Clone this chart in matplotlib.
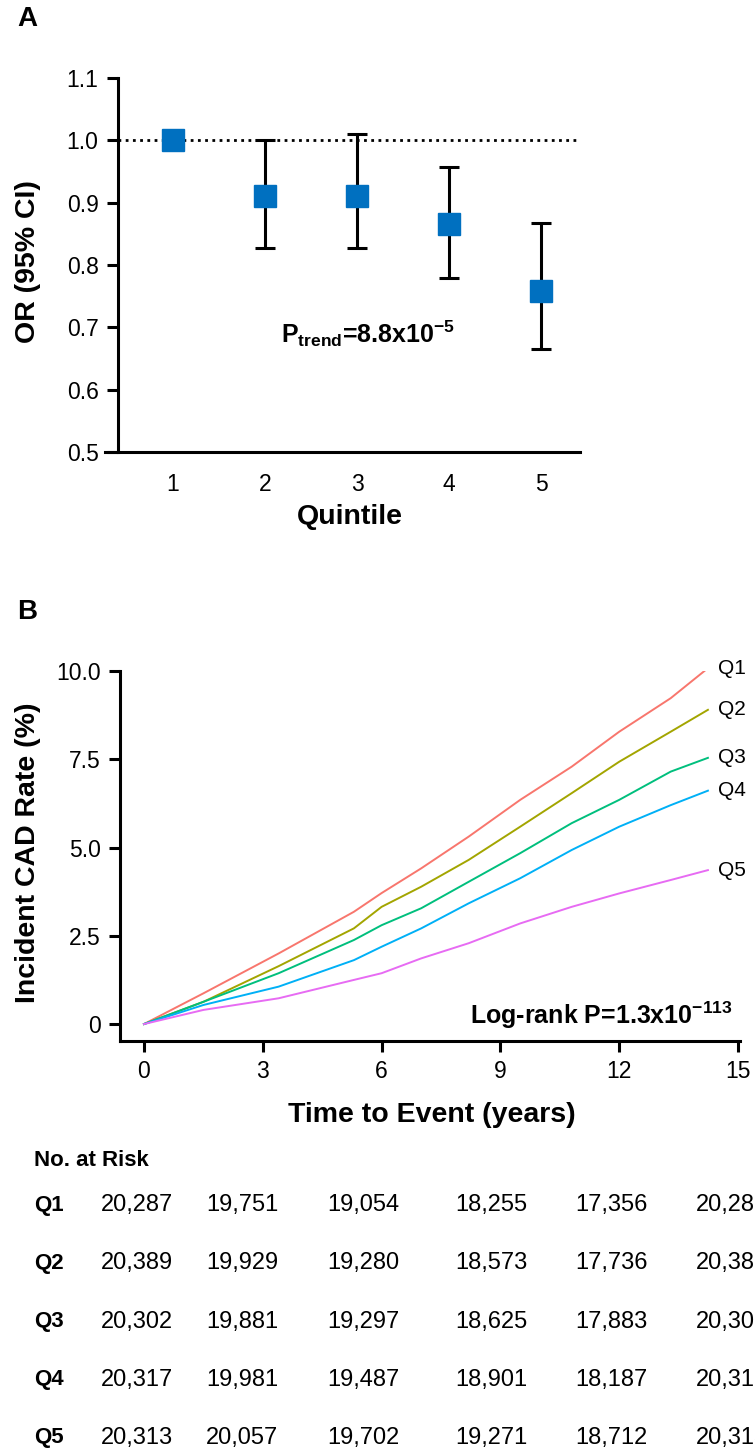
import matplotlib
matplotlib.use('Agg')
import matplotlib.pyplot as plt

plt.rcParams['font.family'] = ['Liberation Sans', 'DejaVu Sans']
plt.rcParams['mathtext.fontset'] = 'custom'
plt.rcParams['mathtext.rm'] = 'Liberation Sans'
plt.rcParams['mathtext.bf'] = 'Liberation Sans:bold'

# panel A: odds ratios by quintile
quintiles = [1, 2, 3, 4, 5]
or_est = [1.00, 0.91, 0.91, 0.866, 0.758]
ci_low = [1.00, 0.828, 0.827, 0.779, 0.665]
ci_high = [1.00, 1.000, 1.010, 0.958, 0.868]

# panel B: cumulative incidence (%)
years = [0, 1.5, 3.4, 5.3, 6.0, 7.0, 8.2, 9.5, 10.8, 12.0, 13.3, 14.24]
q1 = [0, 0.87, 2.00, 3.18, 3.71, 4.41, 5.31, 6.35, 7.29, 8.28, 9.23, 10.08]
q2 = [0, 0.63, 1.64, 2.71, 3.32, 3.89, 4.65, 5.59, 6.54, 7.43, 8.28, 8.90]
q3 = [0, 0.63, 1.44, 2.38, 2.80, 3.28, 4.03, 4.84, 5.69, 6.35, 7.15, 7.54]
q4 = [0, 0.54, 1.06, 1.81, 2.19, 2.71, 3.42, 4.13, 4.93, 5.59, 6.20, 6.61]
q5 = [0, 0.40, 0.73, 1.25, 1.44, 1.86, 2.29, 2.85, 3.32, 3.70, 4.08, 4.36]
curve_names = ['Q1', 'Q2', 'Q3', 'Q4', 'Q5']
curve_colors = ['#F8766D', '#A3A500', '#00BF7D', '#00B0F6', '#E76BF3']

# number at risk table
risk_q1 = [20287, 19751, 19054, 18255, 17356, 20287]
risk_q2 = [20389, 19929, 19280, 18573, 17736, 20389]
risk_q3 = [20302, 19881, 19297, 18625, 17883, 20302]
risk_q4 = [20317, 19981, 19487, 18901, 18187, 20317]
risk_q5 = [20313, 20057, 19702, 19271, 18712, 20313]

W, H = 755, 1454
fig = plt.figure(figsize=(W / 100, H / 100), dpi=100)


def fx(px):
    return px / W


def fy(py):
    return 1 - py / H


lw_ax = 2.2

# ---------------- panel A ----------------
axA = fig.add_axes([fx(105), fy(452), fx(580) - fx(105), fy(78) - fy(452)])
axA.set_xlim(0.26, 5.424)
axA.set_ylim(0.5, 1.1)
axA.axhline(1.0, xmin=(0.402 - 0.26) / (5.424 - 0.26), color='black', ls=(0, (1, 1.6)), lw=2.0, zorder=1)
lo = [e - l for e, l in zip(or_est, ci_low)]
hi = [h - e for e, h in zip(or_est, ci_high)]
axA.errorbar(quintiles, or_est, yerr=[lo, hi], fmt='none', ecolor='black',
             elinewidth=2.2, capsize=7, capthick=2.2, zorder=2)
axA.plot(quintiles, or_est, 's', color='#0070C0', markersize=15.5, zorder=3)
for s in ['top', 'right']:
    axA.spines[s].set_visible(False)
axA.spines['left'].set_position(('data', 0.402))
axA.spines['left'].set_linewidth(lw_ax)
axA.spines['bottom'].set_linewidth(lw_ax)
axA.set_xticks(quintiles)
axA.set_yticks([0.5, 0.6, 0.7, 0.8, 0.9, 1.0, 1.1])
axA.set_yticklabels(['0.5', '0.6', '0.7', '0.8', '0.9', '1.0', '1.1'])
axA.tick_params(axis='y', length=8, width=lw_ax, labelsize=16.5, pad=6)
axA.tick_params(axis='x', length=0, labelsize=16.5, pad=15)
axA.text(3.12, 0.69, 'P$_{\\mathbf{trend}}$=8.8x10$^{\\mathbf{-5}}$', fontsize=18,
         fontweight='bold', ha='center', va='center')

fig.text(fx(350), fy(517), 'Quintile', fontsize=20.5, fontweight='bold', ha='center', va='center')
fig.text(fx(28), fy(262), 'OR (95% CI)', fontsize=20.5, fontweight='bold', rotation=90,
         ha='center', va='center')
fig.text(fx(17), fy(19), 'A', fontsize=20, fontweight='bold', ha='left', va='center')

# ---------------- panel B ----------------
axB = fig.add_axes([fx(120), fy(1041), fx(740) - fx(120), fy(671) - fy(1041)])
axB.set_xlim(-0.606, 15.05)
axB.set_ylim(-0.48, 10.0)
for name, vals, c in zip(curve_names, [q1, q2, q3, q4, q5], curve_colors):
    axB.plot(years, vals, color=c, lw=1.4, solid_joinstyle='round')
    axB.annotate(name, (years[-1], vals[-1]), xytext=(7, 0), textcoords='offset points',
                 fontsize=15, ha='left', va='center', annotation_clip=False)
for s in ['top', 'right']:
    axB.spines[s].set_visible(False)
axB.spines['left'].set_linewidth(lw_ax)
axB.spines['bottom'].set_linewidth(lw_ax)
axB.set_xticks([0, 3, 6, 9, 12, 15])
axB.set_yticks([0, 2.5, 5.0, 7.5, 10.0])
axB.set_yticklabels(['0', '2.5', '5.0', '7.5', '10.0'])
axB.tick_params(axis='both', length=8, width=lw_ax, labelsize=16.5, pad=6)
fig.text(fx(733), fy(1015), 'Log-rank P=1.3x10$^{\\mathbf{-113}}$', fontsize=18,
         fontweight='bold', ha='right', va='center')

fig.text(fx(432), fy(1115), 'Time to Event (years)', fontsize=20.5, fontweight='bold',
         ha='center', va='center')
fig.text(fx(28), fy(853), 'Incident CAD Rate (%)', fontsize=20.5, fontweight='bold',
         rotation=90, ha='center', va='center')
fig.text(fx(17), fy(612), 'B', fontsize=20, fontweight='bold', ha='left', va='center')

# ---------------- number at risk ----------------
fig.text(fx(34), fy(1160), 'No. at Risk', fontsize=16, fontweight='bold', ha='left', va='center')
col_x = [101, 206, 327, 455, 575, 696]
row_y = [1205, 1263, 1322, 1380, 1438]
for name, row, ry in zip(curve_names, [risk_q1, risk_q2, risk_q3, risk_q4, risk_q5], row_y):
    fig.text(fx(34), fy(ry), name, fontsize=16, fontweight='bold', ha='left', va='center')
    for cx, v in zip(col_x, row):
        fig.text(fx(cx), fy(ry), f'{v:,}', fontsize=17, ha='left', va='center')

fig.savefig('out.png', dpi=100)
